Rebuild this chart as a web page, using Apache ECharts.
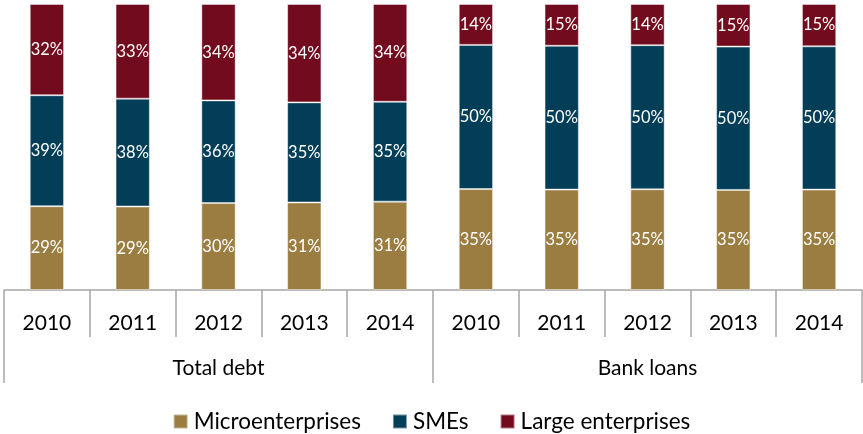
<!DOCTYPE html>
<html>
<head>
<meta charset="utf-8">
<style>
  html, body { margin: 0; padding: 0; background: #ffffff; }
  #chart { width: 863px; height: 434px; }
</style>
<script src="https://cdn.jsdelivr.net/npm/echarts@6/dist/echarts.min.js"></script>
</head>
<body>
<div id="chart"></div>
<script>
// Categories: years, grouped under two debt types
const years = ['2010', '2011', '2012', '2013', '2014', '2010', '2011', '2012', '2013', '2014'];
const groups = ['Total debt', 'Bank loans'];

// Shares (%) by firm size; first five = total debt, last five = bank loans
const micro = [29.3, 29.2, 30.4, 30.6, 30.9, 35.3, 35.1, 35.2, 35.0, 35.1];
const smes  = [38.8, 37.7, 35.9, 35.0, 34.9, 50.4, 50.3, 50.4, 50.1, 50.1];
const large = [31.9, 33.1, 33.7, 34.4, 34.2, 14.3, 14.6, 14.4, 14.9, 14.8];

const seriesNames = ['Microenterprises', 'SMEs', 'Large enterprises'];
const colors = ['#9B7D41', '#033E58', '#720B1E'];

const FONT = 'Lato, "Open Sans", sans-serif';

function barSeries(name, data, color) {
  return {
    name: name,
    type: 'bar',
    stack: 'share',
    data: data,
    barWidth: '40%',
    itemStyle: {
      color: color,
      borderColor: 'rgba(255,255,255,0.45)',
      borderWidth: 1
    },
    label: {
      show: true,
      position: 'inside',
      color: '#ffffff',
      fontFamily: FONT,
      fontSize: 16.5,
      formatter: p => Math.round(p.value) + '%'
    }
  };
}

const chart = echarts.init(document.getElementById('chart'));
chart.setOption({
  animation: false,
  backgroundColor: '#ffffff',
  grid: { left: 4, right: 1, top: 4, bottom: 144, containLabel: false },
  legend: {
    bottom: -4,
    left: 'center',
    icon: 'rect',
    itemWidth: 14,
    itemHeight: 14,
    itemGap: 31,
    textStyle: { fontFamily: FONT, fontSize: 22.5, color: '#000000', padding: [0, 0, 0, 1] },
    data: seriesNames
  },
  xAxis: [
    {
      type: 'category',
      data: years,
      position: 'bottom',
      axisLine: { show: true, lineStyle: { color: '#A6A6A6', width: 1.5 } },
      axisTick: { show: true, interval: 0, length: 47, lineStyle: { color: '#A6A6A6', width: 1.5 } },
      axisLabel: { interval: 0, margin: 23, color: '#000000', fontFamily: FONT, fontSize: 21 }
    },
    {
      type: 'category',
      data: groups,
      position: 'bottom',
      axisLine: { show: false },
      axisTick: { show: true, interval: 0, length: 93, lineStyle: { color: '#A6A6A6', width: 1.5 } },
      axisLabel: { interval: 0, margin: 68, color: '#000000', fontFamily: FONT, fontSize: 21 }
    }
  ],
  yAxis: {
    type: 'value',
    min: 0,
    max: 100,
    show: false
  },
  series: [
    barSeries(seriesNames[0], micro, colors[0]),
    barSeries(seriesNames[1], smes, colors[1]),
    barSeries(seriesNames[2], large, colors[2])
  ]
});
</script>
</body>
</html>
